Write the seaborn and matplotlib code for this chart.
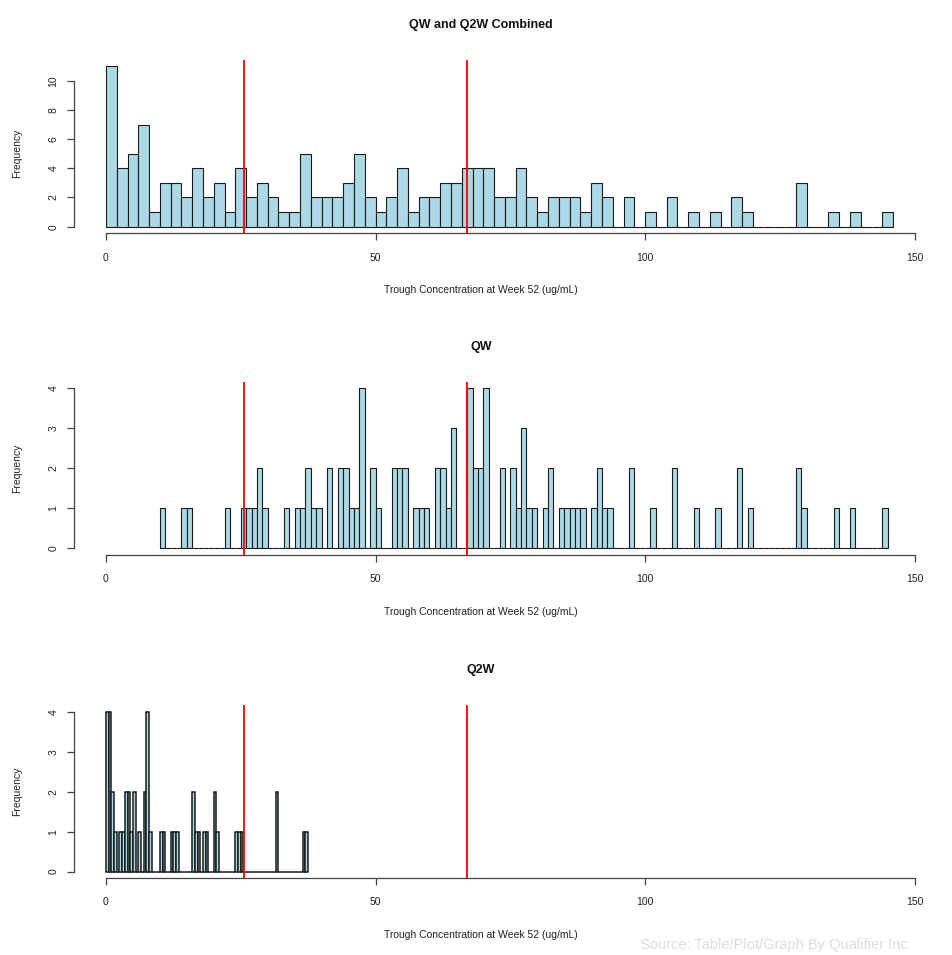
import numpy as np
import pandas as pd
import matplotlib
matplotlib.use('Agg')
import matplotlib.pyplot as plt
import seaborn as sns

# QW and Q2W combined: counts per 2 ug/mL bin, bins start at 0
combined_counts = [11, 4, 5, 7, 1, 3, 3, 2, 4, 2,
                   3, 1, 4, 2, 3, 2, 1, 1, 5, 2,
                   2, 2, 3, 5, 2, 1, 2, 4, 1, 2,
                   2, 3, 3, 4, 4, 4, 2, 2, 4, 2,
                   1, 2, 2, 2, 1, 3, 2, 0, 2, 0,
                   1, 0, 2, 0, 1, 0, 1, 0, 2, 1,
                   0, 0, 0, 0, 3, 0, 0, 1, 0, 1,
                   0, 0, 1]

# QW: left edge of each non-empty 1 ug/mL bin and its count
qw_left = [10, 14, 15, 22, 25, 26, 27, 28, 29, 33,
           35, 36, 37, 38, 39, 41, 43, 44, 45, 46,
           47, 49, 50, 53, 54, 55, 57, 58, 59, 61,
           62, 63, 64, 67, 68, 69, 70, 73, 75, 76,
           77, 78, 79, 81, 82, 84, 85, 86, 87, 88,
           90, 91, 92, 93, 97, 101, 105, 109, 113, 117,
           119, 128, 129, 135, 138, 144]
qw_count = [1, 1, 1, 1, 1, 1, 1, 2, 1, 1,
            1, 1, 2, 1, 1, 2, 2, 2, 1, 1,
            4, 2, 1, 2, 2, 2, 1, 1, 1, 2,
            2, 1, 3, 4, 2, 2, 4, 2, 2, 1,
            3, 1, 1, 1, 2, 1, 1, 1, 1, 1,
            1, 2, 1, 1, 2, 1, 2, 1, 1, 2,
            1, 2, 1, 1, 1, 1]

# Q2W: left edge of each non-empty 0.5 ug/mL bin and its count
q2w_left = [0.0, 0.5, 1.0, 1.5, 2.5, 3.0, 3.5, 4.0, 4.5, 5.0,
            6.0, 7.0, 7.5, 8.0, 10.0, 10.5, 12.0, 12.5, 13.0, 16.0,
            16.5, 17.0, 18.0, 18.5, 20.0, 20.5, 24.0, 24.5, 25.0, 31.5,
            36.5, 37.0]
q2w_count = [4, 4, 2, 1, 1, 1, 2, 2, 1, 2,
             1, 2, 4, 1, 1, 1, 1, 1, 1, 2,
             1, 1, 1, 1, 2, 1, 1, 1, 1, 2,
             1, 1]

ref_lines = [25.6, 66.9]
x_ticks = [0, 50, 100, 150]
xlab = 'Trough Concentration at Week 52 (ug/mL)'

sns.set_style('white')
plt.rcParams['font.family'] = ['Liberation Sans', 'DejaVu Sans']

W, H = 953, 955
fig = plt.figure(figsize=(W / 100, H / 100), dpi=100)

# (title, centers, weights, bin edges, y max tick, ylim top, edge width, axes box in px: top, bottom)
panels = [
    ('QW and Q2W Combined',
     np.arange(0, 146, 2) + 1, combined_counts, np.arange(0, 147, 2),
     10, 11, 0.8, 59.7, 233.1),
    ('QW',
     np.array(qw_left) + 0.5, qw_count, np.arange(10, 146, 1),
     4, 4, 0.8, 382.0, 554.7),
    ('Q2W',
     np.array(q2w_left) + 0.25, q2w_count, np.arange(0, 38.0, 0.5),
     4, 4, 1.1, 705.3, 878.0),
]

left_px, right_px = 73.6, 947.0
for title, centers, weights, edges, ytop, ymax, elw, top_px, bot_px in panels:
    ax = fig.add_axes([left_px / W, 1 - bot_px / H,
                       (right_px - left_px) / W, (bot_px - top_px) / H])
    df = pd.DataFrame({'conc': centers, 'n': weights})
    sns.histplot(data=df, x='conc', weights='n', bins=[float(e) for e in edges],
                 ax=ax, color='lightblue', edgecolor='#1a1a1a', linewidth=elw,
                 alpha=1)
    for v in ref_lines:
        ax.axvline(v, color='red', lw=1.3)

    pad = ymax * 0.04
    ax.set_xlim(-6, 156)
    ax.set_ylim(-pad, ymax + pad)
    ax.set_xticks(x_ticks)
    ax.set_yticks(list(range(0, ytop + 1, 2 if ytop > 4 else 1)))
    ax.set_xlabel('')
    ax.set_ylabel('')

    sns.despine(ax=ax)
    ax.spines['left'].set_bounds(0, ytop)
    ax.spines['bottom'].set_bounds(0, 150)
    for s in ('left', 'bottom'):
        ax.spines[s].set_color('#444444')
        ax.spines[s].set_linewidth(0.9)
    ax.tick_params(axis='both', direction='out', length=5, width=0.9,
                   color='#444444', labelsize=7.5, labelcolor='#222222',
                   bottom=True, left=True)
    ax.tick_params(axis='x', pad=9)
    ax.tick_params(axis='y', pad=6)
    for lbl in ax.get_yticklabels():
        lbl.set_rotation(90)
        lbl.set_va('center')

    # R-style annotations
    fig.text(481 / W, 1 - (top_px - 35) / H, title, ha='center', va='center',
             fontsize=9, fontweight='bold', color='#111111')
    fig.text(481 / W, 1 - (bot_px + 57) / H, xlab, ha='center', va='center',
             fontsize=7.5, color='#222222')
    y0 = ax.transData.transform((0, 0))[1]
    y1 = ax.transData.transform((0, ytop))[1]
    fig.text(17 / W, (y0 + y1) / 2 / H, 'Frequency', ha='center', va='center',
             rotation=90, fontsize=7.5, color='#222222')

fig.text(640 / W, 0.003, 'Source: Table/Plot/Graph By Qualifier Inc',
         ha='left', va='bottom', fontsize=10.5, color='#dddddd')

fig.savefig('out.png', dpi=100)
plt.close(fig)
